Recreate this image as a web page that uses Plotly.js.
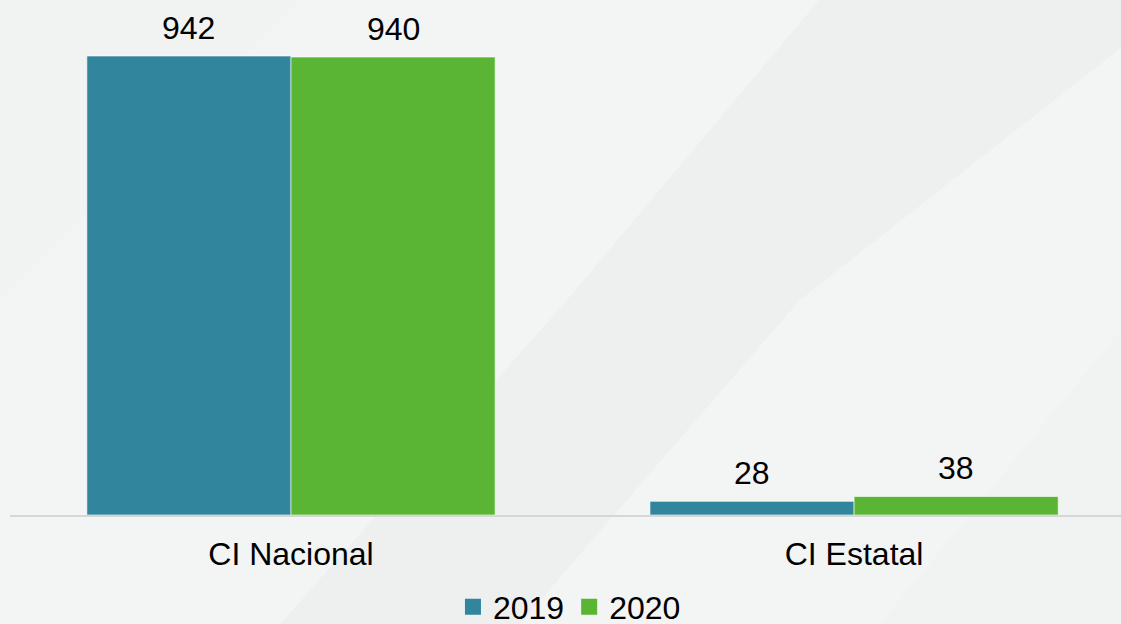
<!DOCTYPE html>
<html>
<head>
<meta charset="utf-8">
<script src="https://cdn.plot.ly/plotly-3.0.1.min.js"></script>
<style>
  html, body { margin: 0; padding: 0; background: #f1f2f2; }
  #chart { width: 1121px; height: 624px; }
</style>
</head>
<body>
<div id="chart"></div>
<script>
const categories = ['CI Nacional', 'CI Estatal'];
const seriesNames = ['2019', '2020'];
const values2019 = [942, 28];
const values2020 = [940, 38];
const colors = ['#31859c', '#5ab534'];

const bargap = 0.275;
const groupWidth = 1 - bargap;
const idx = categories.map((_, i) => i);
const FONT = 'Liberation Sans, Arial, sans-serif';

const traces = [
  {
    type: 'bar', x: idx, y: values2019, name: seriesNames[0],
    marker: { color: colors[0], line: { color: 'rgba(255,255,255,0.6)', width: 1 } },
    showlegend: false, hoverinfo: 'skip'
  },
  {
    type: 'bar', x: idx, y: values2020, name: seriesNames[1],
    marker: { color: colors[1], line: { color: 'rgba(255,255,255,0.6)', width: 1 } },
    showlegend: false, hoverinfo: 'skip'
  },
  // legend entries
  {
    type: 'scatter', mode: 'markers', x: [null], y: [null], name: seriesNames[0],
    marker: { symbol: 'square', size: 17, color: colors[0] }, hoverinfo: 'skip'
  },
  {
    type: 'scatter', mode: 'markers', x: [null], y: [null], name: seriesNames[1],
    marker: { symbol: 'square', size: 17, color: colors[1] }, hoverinfo: 'skip'
  }
];

// value labels above each bar
const annotations = [];
[values2019, values2020].forEach((vals, s) => {
  vals.forEach((v, i) => {
    annotations.push({
      x: i + (s === 0 ? -1 : 1) * groupWidth / 4,
      y: v, xref: 'x', yref: 'y',
      text: String(v), showarrow: false,
      yanchor: 'bottom', yshift: 8,
      font: { family: FONT, size: 32, color: '#000000' }
    });
  });
});

// subtle background facets (paper coords relative to plot area)
function px(x) { return (x - 10) / 1111; }
function py(y) { return (515 - y) / 515; }
function poly(pts) {
  return 'M' + pts.map(p => px(p[0]) + ',' + py(p[1])).join(' L') + ' Z';
}
const shapes = [
  { type: 'path', xref: 'paper', yref: 'paper', layer: 'below', line: { width: 0 },
    fillcolor: 'rgba(255,255,255,0.18)',
    path: poly([[300, 0], [819, 0], [567, 300], [280, 624], [0, 624], [0, 300]]) },
  { type: 'path', xref: 'paper', yref: 'paper', layer: 'below', line: { width: 0 },
    fillcolor: 'rgba(0,0,0,0.01)',
    path: poly([[819, 0], [1121, 0], [1121, 48], [800, 300], [520, 624], [280, 624], [567, 300]]) },
  { type: 'path', xref: 'paper', yref: 'paper', layer: 'below', line: { width: 0 },
    fillcolor: 'rgba(255,255,255,0.2)',
    path: poly([[1121, 48], [1121, 330], [880, 624], [520, 624], [800, 300]]) }
];

const layout = {
  width: 1121, height: 624,
  margin: { l: 10, r: 0, t: 0, b: 109, autoexpand: false },
  paper_bgcolor: '#f1f2f2',
  plot_bgcolor: 'rgba(0,0,0,0)',
  font: { family: FONT, size: 32, color: '#000000' },
  barmode: 'group', bargap: bargap, bargroupgap: 0,
  xaxis: {
    type: 'linear',
    range: [-0.499, 1.474],
    tickvals: idx, ticktext: categories,
    showgrid: false, zeroline: false,
    showline: true, linecolor: '#d6d6d6', linewidth: 2,
    ticks: '', ticklabelstandoff: 10,
    tickfont: { family: FONT, size: 32, color: '#000000' },
    automargin: false,
    fixedrange: true
  },
  yaxis: {
    range: [0, 1057],
    visible: false, showgrid: false, zeroline: false, fixedrange: true
  },
  showlegend: true,
  legend: {
    orientation: 'h',
    xref: 'container', yref: 'paper',
    x: 0.508, xanchor: 'center',
    y: -0.125, yanchor: 'top',
    font: { family: FONT, size: 32, color: '#000000' },
    bgcolor: 'rgba(0,0,0,0)',
    itemwidth: 30,
    tracegroupgap: 0
  },
  annotations: annotations,
  shapes: shapes
};

Plotly.newPlot('chart', traces, layout, { displayModeBar: false, staticPlot: true });
</script>
</body>
</html>
